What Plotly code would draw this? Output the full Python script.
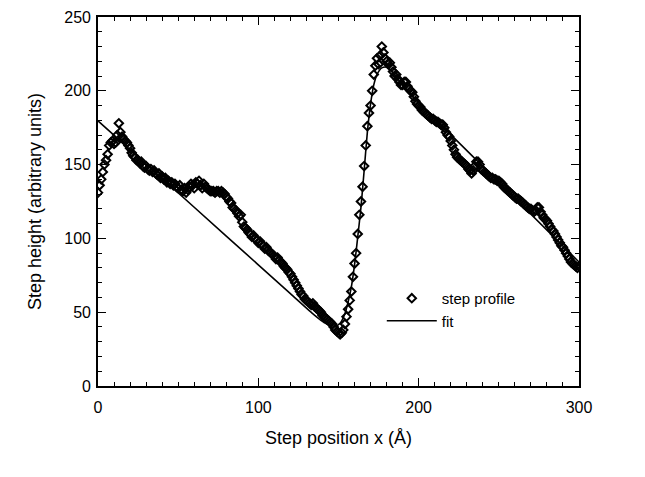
import plotly.graph_objects as go

# ---- data ----
profile_x = [
    0, 1, 2, 3, 4, 5, 6, 7, 8, 9, 10, 11, 12, 13, 14, 15, 16, 17, 18, 19,
    20, 21, 22, 23, 24, 25, 26, 27, 28, 29, 30, 31, 32, 33, 34, 35, 36, 37, 38, 39,
    40, 41, 42, 43, 44, 45, 46, 47, 48, 49, 50, 51, 52, 53, 54, 55, 56, 57, 58, 59,
    60, 61, 62, 63, 64, 65, 66, 67, 68, 69, 70, 71, 72, 73, 74, 75, 76, 77, 78, 79,
    80, 81, 82, 83, 84, 85, 86, 87, 88, 89, 90, 91, 92, 93, 94, 95, 96, 97, 98, 99,
    100, 101, 102, 103, 104, 105, 106, 107, 108, 109, 110, 111, 112, 113, 114, 115, 116, 117, 118, 119,
    120, 121, 122, 123, 124, 125, 126, 127, 128, 129, 130, 131, 132, 133, 134, 135, 136, 137, 138, 139,
    140, 141, 142, 143, 144, 145, 146, 147, 148, 149, 150, 151, 152, 153, 154, 155, 156, 157, 158, 159,
    160, 161, 162, 163, 164, 165, 166, 167, 168, 169, 170, 171, 172, 173, 174, 175, 176, 177, 178, 179,
    180, 181, 182, 183, 184, 185, 186, 187, 188, 189, 190, 191, 192, 193, 194, 195, 196, 197, 198, 199,
    200, 201, 202, 203, 204, 205, 206, 207, 208, 209, 210, 211, 212, 213, 214, 215, 216, 217, 218, 219,
    220, 221, 222, 223, 224, 225, 226, 227, 228, 229, 230, 231, 232, 233, 234, 235, 236, 237, 238, 239,
    240, 241, 242, 243, 244, 245, 246, 247, 248, 249, 250, 251, 252, 253, 254, 255, 256, 257, 258, 259,
    260, 261, 262, 263, 264, 265, 266, 267, 268, 269, 270, 271, 272, 273, 274, 275, 276, 277, 278, 279,
    280, 281, 282, 283, 284, 285, 286, 287, 288, 289, 290, 291, 292, 293, 294, 295, 296, 297, 298, 299, 300,
]
profile_y = [
    131, 136, 140, 145, 150, 153, 157, 163, 165, 166, 164, 165, 170, 178, 172, 169, 167, 166, 165, 163,
    161, 158, 156, 155, 153, 153, 151, 152, 149, 148, 149, 147, 146, 147, 145, 146, 144, 143, 144, 141,
    142, 140, 141, 138, 139, 137, 138, 136, 137, 135, 134, 136, 133, 132, 134, 131, 133, 135, 137, 136,
    134, 138, 137, 139, 136, 134, 137, 135, 134, 133, 132, 132, 132, 131, 132, 132, 131, 132, 131, 130,
    128, 127, 125, 124, 121, 120, 119, 117, 115, 116, 111, 108, 107, 106, 104, 103, 101, 102, 100, 99,
    97, 98, 96, 95, 93, 94, 92, 91, 90, 89, 88, 86, 87, 85, 84, 83, 81, 80, 79, 77,
    76, 74, 72, 70, 68, 66, 64, 62, 61, 59, 58, 57, 56, 55, 56, 54, 53, 52, 51, 50,
    48, 47, 46, 45, 44, 43, 42, 40, 38, 37, 36, 35, 36, 38, 42, 47, 52, 58, 64, 74,
    83, 90, 103, 116, 125, 135, 149, 163, 176, 185, 190, 200, 211, 217, 222, 218, 224, 230, 226, 222,
    220, 218, 219, 216, 213, 210, 211, 208, 206, 204, 204, 206, 206, 203, 201, 200, 199, 196, 193, 191,
    190, 189, 187, 186, 185, 184, 183, 182, 181, 181, 180, 179, 179, 178, 177, 177, 175, 172, 170, 169,
    166, 163, 160, 157, 155, 154, 153, 152, 151, 150, 149, 147, 146, 144, 146, 149, 152, 152, 150, 147,
    146, 145, 144, 143, 142, 141, 141, 140, 140, 139, 139, 138, 137, 135, 134, 133, 132, 131, 130, 129,
    128, 127, 127, 126, 125, 124, 123, 122, 121, 120, 120, 119, 118, 119, 121, 121, 118, 116, 114, 113,
    112, 110, 108, 106, 105, 103, 101, 99, 97, 95, 94, 92, 90, 88, 86, 84, 83, 82, 81, 80, 81,
]

fit_x = [0, 40, 80, 120, 135, 141, 145, 148, 151, 154, 156, 158, 160, 162, 164, 166, 168, 170,
         172, 174, 177, 180, 183, 186, 190, 200, 240, 300]
fit_y = [179.6, 140.6, 101.6, 62.6, 48.0, 43.0, 41.0, 40.5, 42.5, 49, 57, 67, 82, 101, 121, 146, 172, 191,
         204, 211, 215.5, 216, 213.5, 209.5, 203.5, 192, 148.8, 84]

x_ticks = [0, 100, 200, 300]
y_ticks = [0, 50, 100, 150, 200, 250]

FONT = "Liberation Sans, Arial, Helvetica, sans-serif"

fig = go.Figure()
fig.add_trace(go.Scatter(
    x=profile_x, y=profile_y, mode="markers", name="step profile",
    marker=dict(symbol="diamond-open", size=6.5, color="black", line=dict(width=2, color="black")),
))
fig.add_trace(go.Scatter(
    x=fit_x, y=fit_y, mode="lines", name="fit",
    line=dict(color="black", width=1.6, shape="spline", smoothing=0.6),
))

axis_common = dict(
    showgrid=False, zeroline=False, showline=True, linecolor="black", linewidth=1.6,
    mirror="ticks", ticks="inside", ticklen=8, tickwidth=1.4, tickcolor="black",
    tickfont=dict(family=FONT, size=16, color="black"), automargin=False,
)
fig.update_xaxes(
    range=[0, 300], tickvals=x_ticks, ticktext=[str(v) for v in x_ticks],
    minor=dict(dtick=10, tick0=0, ticks="inside", ticklen=4, tickwidth=1.2, tickcolor="black"),
    ticklabelstandoff=6,
    title=dict(text="Step position x (Å)", font=dict(family=FONT, size=18, color="black"), standoff=16),
    **axis_common,
)
fig.update_yaxes(
    range=[0, 250], tickvals=y_ticks, ticktext=[str(v) for v in y_ticks],
    minor=dict(dtick=10, tick0=0, ticks="inside", ticklen=4, tickwidth=1.2, tickcolor="black"),
    ticklabelstandoff=2,
    title=dict(text="Step height (arbitrary units)", font=dict(family=FONT, size=18, color="black"), standoff=18),
    **axis_common,
)
fig.update_layout(
    width=645, height=477,
    margin=dict(l=90, r=74, t=9, b=99),
    paper_bgcolor="white", plot_bgcolor="white",
    showlegend=True,
    legend=dict(
        x=0.59, y=0.282, xanchor="left", yanchor="top",
        bgcolor="rgba(0,0,0,0)", borderwidth=0,
        font=dict(family=FONT, size=15, color="black"),
        tracegroupgap=0, itemwidth=50,
    ),
)
fig.write_html("out.html")
